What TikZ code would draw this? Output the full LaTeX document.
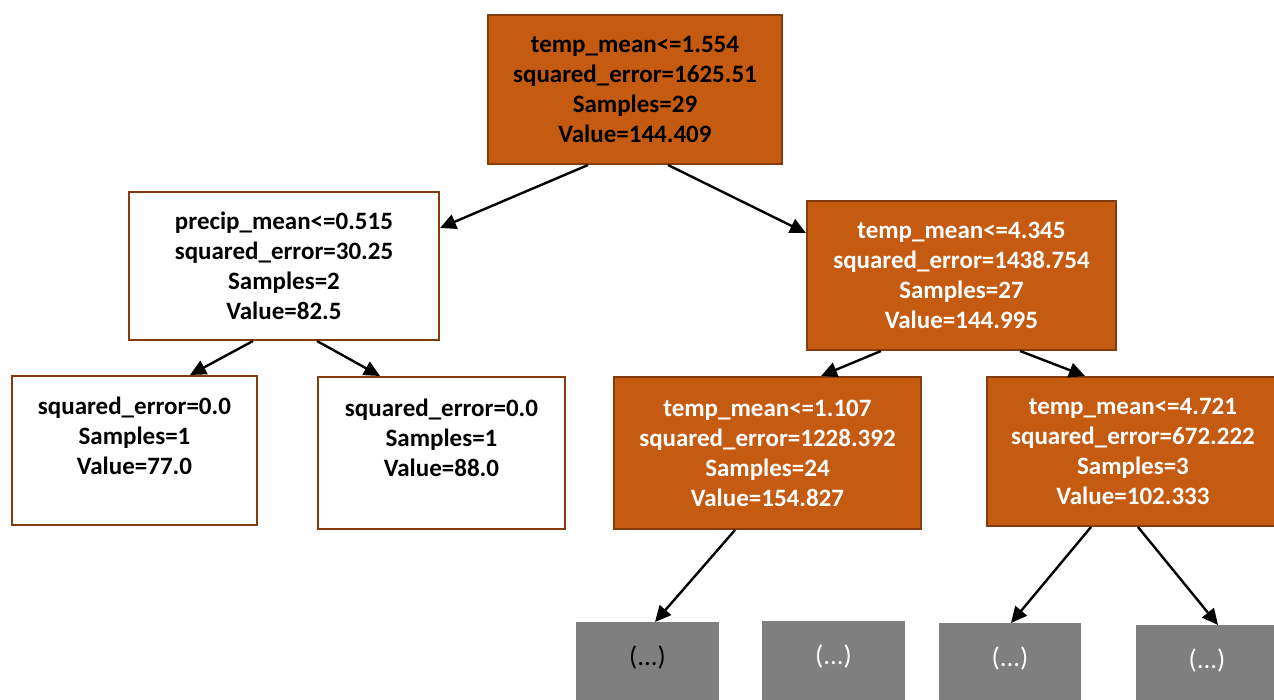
\documentclass[tikz,border=0pt]{standalone}
\usepackage{fontspec}
\setmainfont{Carlito}
\usetikzlibrary{arrows.meta}
\definecolor{orng}{HTML}{C55A11}
\definecolor{brwn}{HTML}{843C0C}
\definecolor{grayfill}{HTML}{7F7F7F}
\tikzset{
  treebox/.style={draw=brwn, line width=1pt, anchor=north west, inner sep=0pt, align=center,
    font=\fontsize{12.5}{15}\selectfont\bfseries},
  orangebox/.style={treebox, fill=orng},
  whitebox/.style={treebox, fill=white, text=black},
  graybox/.style={fill=grayfill, draw=none, anchor=north west, inner sep=0pt, minimum height=50pt},
  graytext/.style={font=\fontsize{13.5}{16}\selectfont, inner sep=0pt},
  edge/.style={line width=1.2pt, -{Triangle[length=8pt,width=7.5pt]}}
}
\begin{document}
\begin{tikzpicture}[x=0.5pt,y=-0.5pt]
\useasboundingbox (0,0) rectangle (1274,700);
\fill[white] (0,0) rectangle (1274,700);
% nodes
\node[orangebox, text=black, minimum width=147pt, minimum height=74.5pt] (root) at (487,14)
  {temp\_mean<=1.554\\squared\_error=1625.51\\Samples=29\\Value=144.409};
\node[whitebox, minimum width=155pt, minimum height=74pt] (left) at (128,191)
  {precip\_mean<=0.515\\squared\_error=30.25\\Samples=2\\Value=82.5};
\node[orangebox, text=white, minimum width=154.5pt, minimum height=74.5pt] (right) at (806,200)
  {temp\_mean<=4.345\\squared\_error=1438.754\\Samples=27\\Value=144.995};
\node[whitebox, minimum width=122.5pt, minimum height=74.5pt] (leafa) at (11,375)
  {squared\_error=0.0\\Samples=1\\Value=77.0\\\mbox{}};
\node[whitebox, minimum width=123.5pt, minimum height=76pt] (leafb) at (317,376)
  {squared\_error=0.0\\Samples=1\\Value=88.0\\\mbox{}};
\node[orangebox, text=white, minimum width=153.5pt, minimum height=76pt] (nla) at (613,376)
  {temp\_mean<=1.107\\squared\_error=1228.392\\Samples=24\\Value=154.827};
\node[orangebox, text=white, minimum width=146pt, minimum height=74.5pt] (nlb) at (986,376)
  {temp\_mean<=4.721\\squared\_error=672.222\\Samples=3\\Value=102.333};
% gray truncated nodes
\node[graybox, minimum width=71.5pt] (ga) at (576,622) {};
\node[graybox, minimum width=71.5pt] (gb) at (762,621) {};
\node[graybox, minimum width=71pt] (gc) at (939,623) {};
\node[graybox, minimum width=72pt] (gd) at (1136,625) {};
\node[graytext, text=black] (gat) at (647.5,657) {(...)};
\node[graytext, text=white] (gbt) at (833.5,656) {(...)};
\node[graytext, text=white] (gct) at (1010,658) {(...)};
\node[graytext, text=white] (gdt) at (1207,660) {(...)};
% edges
\draw[edge] ([xshift=50.5pt]root.south west) -- ([yshift=-18.5pt]left.north east);
\draw[edge] ([xshift=90.5pt]root.south west) -- ([yshift=-16.5pt]right.north west);
\draw[edge] ([xshift=62.5pt]left.south west) -- ([xshift=89.5pt]leafa.north west);
\draw[edge] ([xshift=94.5pt]left.south west) -- ([xshift=31.5pt]leafb.north west);
\draw[edge] ([xshift=37.5pt]right.south west) -- ([xshift=104pt]nla.north west);
\draw[edge] ([xshift=107pt]right.south west) -- ([xshift=49.5pt]nlb.north west);
\draw[edge] ([xshift=61pt]nla.south west) -- ([xshift=39.5pt]ga.north west);
\draw[edge] ([xshift=52.5pt]nlb.south west) -- ([xshift=36pt]gc.north west);
\draw[edge] ([xshift=76pt]nlb.south west) -- ([xshift=41pt]gd.north west);
\end{tikzpicture}
\end{document}
